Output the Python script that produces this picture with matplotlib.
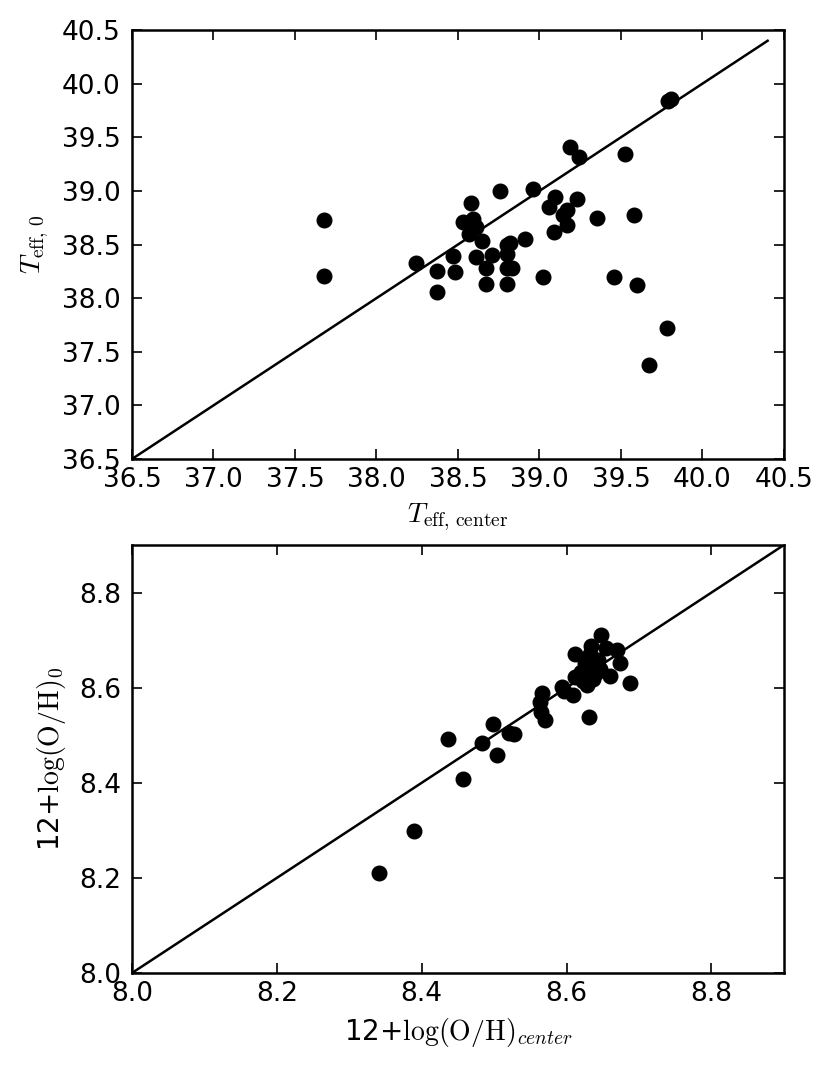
import numpy as np
import matplotlib
matplotlib.use('Agg')
import matplotlib.pyplot as plt

plt.rcParams['mathtext.fontset'] = 'cm'
plt.rcParams['font.family'] = 'DejaVu Sans'

# Teff (kK): centre vs. integrated
teff_center = [37.68, 37.68, 38.24, 38.37, 38.37, 38.47, 38.48, 38.53, 38.58, 38.59,
               38.57, 38.61, 38.57, 38.61, 38.645, 38.67, 38.67, 38.71, 38.76, 38.80,
               38.82, 38.80, 38.80, 38.83, 38.80, 38.91, 38.96, 39.02, 39.06, 39.095,
               39.09, 39.145, 39.17, 39.17, 39.19, 39.23, 39.24, 39.355, 39.46, 39.525,
               39.58, 39.60, 39.67, 39.78, 39.79, 39.81]
teff_0 = [38.73, 38.21, 38.33, 38.25, 38.06, 38.39, 38.24, 38.71, 38.89, 38.74,
          38.68, 38.66, 38.60, 38.38, 38.53, 38.28, 38.13, 38.40, 39.00, 38.50,
          38.51, 38.41, 38.28, 38.28, 38.13, 38.55, 39.015, 38.20, 38.85, 38.94,
          38.62, 38.78, 38.82, 38.68, 39.41, 38.92, 39.32, 38.745, 38.20, 39.345,
          38.78, 38.12, 37.38, 37.72, 39.84, 39.86]

# 12+log(O/H): centre vs. integrated
oh_center = [8.341, 8.389, 8.457, 8.436, 8.483, 8.498, 8.504, 8.520, 8.528, 8.566,
             8.563, 8.565, 8.570, 8.593, 8.596, 8.609, 8.612, 8.612, 8.620, 8.628,
             8.631, 8.634, 8.634, 8.630, 8.637, 8.648, 8.655, 8.669, 8.674, 8.660,
             8.687, 8.643, 8.646, 8.625, 8.640, 8.622, 8.632]
oh_0 = [8.211, 8.299, 8.408, 8.491, 8.484, 8.523, 8.458, 8.505, 8.502, 8.589,
        8.569, 8.549, 8.532, 8.602, 8.592, 8.585, 8.670, 8.623, 8.632, 8.606,
        8.539, 8.687, 8.660, 8.645, 8.618, 8.711, 8.683, 8.679, 8.651, 8.624,
        8.610, 8.658, 8.640, 8.652, 8.630, 8.615, 8.670]

teff_line = [36.5, 40.4]
oh_line = [8.0, 8.9]

fig = plt.figure(figsize=(8.3, 10.69), dpi=100)
ax1 = fig.add_axes([0.159, 0.5706, 0.7855, 0.4013])
ax2 = fig.add_axes([0.159, 0.0898, 0.7855, 0.4004])


def style(ax):
    for s in ax.spines.values():
        s.set_linewidth(1.8)
    ax.tick_params(direction='in', top=True, right=True, length=7, width=1.2,
                   labelsize=19)
    ax.tick_params(axis='x', pad=6)
    ax.tick_params(axis='y', pad=8)


ax1.plot(teff_line, teff_line, 'k-', lw=1.8)
ax1.plot(teff_center, teff_0, 'ko', ms=10.5)
ax1.set_xlim(36.5, 40.5)
ax1.set_ylim(36.5, 40.5)
ax1.set_xticks(np.arange(36.5, 40.51, 0.5))
ax1.set_yticks(np.arange(36.5, 40.51, 0.5))
ax1.set_xlabel(r'$T_{\rm eff,\,center}$', fontsize=20, labelpad=6)
ax1.set_ylabel(r'$T_{\rm eff,\,0}$', fontsize=20, labelpad=8)
style(ax1)

ax2.plot(oh_line, oh_line, 'k-', lw=1.8)
ax2.plot(oh_center, oh_0, 'ko', ms=10.5)
ax2.set_xlim(8.0, 8.9)
ax2.set_ylim(8.0, 8.9)
ax2.set_xticks([8.0, 8.2, 8.4, 8.6, 8.8])
ax2.set_yticks([8.0, 8.2, 8.4, 8.6, 8.8])
ax2.set_xlabel(r'12+$\log({\rm O/H})_{center}$', fontsize=20, labelpad=6)
ax2.set_ylabel(r'12+$\log({\rm O/H})_0$', fontsize=20, labelpad=8)
style(ax2)

fig.savefig('out.png', dpi=100)
